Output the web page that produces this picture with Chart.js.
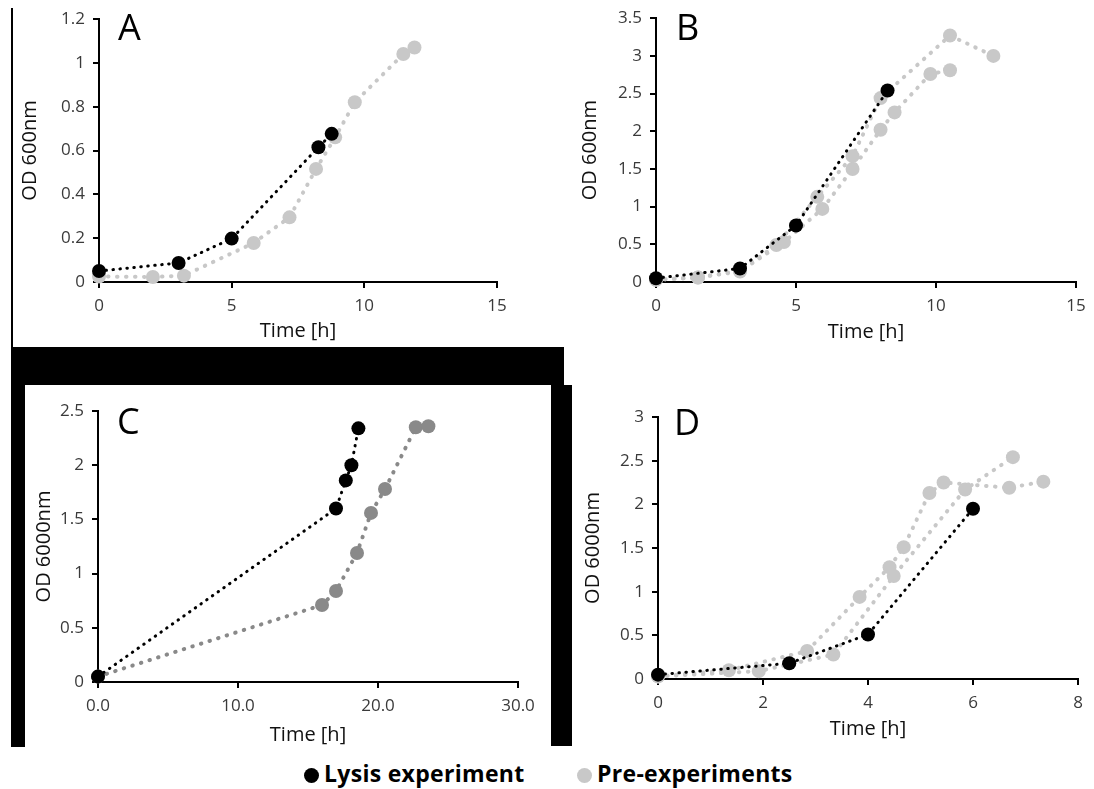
<!DOCTYPE html>
<html>
<head>
<meta charset="utf-8">
<script src="https://cdn.jsdelivr.net/npm/chart.js@4.4.1/dist/chart.umd.min.js"></script>
<style>
body { margin: 0; background: #fff; width: 1094px; height: 789px; overflow: hidden; position: relative; font-family: "Open Sans", sans-serif; }
.box { position: absolute; }
.bar { position: absolute; background: #000; }
.tag { position: absolute; font-size: 36px; line-height: 36px; color: #000; }
.leg { position: absolute; top: 758px; font-weight: 700; font-size: 23px; line-height: 30px; letter-spacing: 0.3px; color: #000; white-space: nowrap; }
.dot { display: inline-block; width: 15px; height: 15px; border-radius: 50%; vertical-align: -1px; margin-right: 5px; }
</style>
</head>
<body>
<!-- frame bits around the panels -->
<div class="bar" style="left:11px;top:8px;width:2px;height:340px"></div>
<div class="bar" style="left:11px;top:347px;width:553px;height:38px"></div>
<div class="bar" style="left:11px;top:347px;width:14px;height:400px"></div>
<div class="bar" style="left:551px;top:385px;width:21px;height:361px"></div>

<div class="box" id="boxA" style="left:13px;top:0px;width:534px;height:346px"><canvas id="cA"></canvas></div>
<div class="box" id="boxB" style="left:547px;top:0px;width:547px;height:350px"><canvas id="cB"></canvas></div>
<div class="box" id="boxC" style="left:25px;top:385px;width:526px;height:361px"><canvas id="cC"></canvas></div>
<div class="box" id="boxD" style="left:572px;top:385px;width:522px;height:365px"><canvas id="cD"></canvas></div>

<div class="tag" style="left:118px;top:9px">A</div>
<div class="tag" style="left:676px;top:9px">B</div>
<div class="tag" style="left:117px;top:403px">C</div>
<div class="tag" style="left:674px;top:404px">D</div>

<div class="leg" style="left:304px"><span class="dot" style="background:#000"></span>Lysis experiment</div>
<div class="leg" style="left:577px"><span class="dot" style="background:#c8c8c8"></span>Pre-experiments</div>

<script>
// panel A
const aLysisX = [0, 3, 5, 8.27, 8.77];
const aLysisY = [0.05, 0.087, 0.198, 0.615, 0.676];
const aPreX = [0, 2.03, 3.2, 5.83, 7.18, 8.18, 8.9, 9.64, 11.47, 11.89];
const aPreY = [0.025, 0.023, 0.029, 0.178, 0.295, 0.516, 0.66, 0.82, 1.04, 1.07];
const aXTicks = [0, 5, 10, 15];
const aYTicks = [0, 0.2, 0.4, 0.6, 0.8, 1, 1.2];

// panel B
const bLysisX = [0, 3, 5, 8.27];
const bLysisY = [0.05, 0.18, 0.75, 2.54];
const bPre1X = [0, 1.5, 3, 4.3, 5.76, 7.02, 8.02, 10.5, 12.05];
const bPre1Y = [0.03, 0.06, 0.15, 0.49, 1.13, 1.67, 2.44, 3.27, 3.0];
const bPre2X = [0, 1.5, 3, 4.57, 5.94, 7.02, 8.02, 8.52, 9.8, 10.5];
const bPre2Y = [0.03, 0.06, 0.14, 0.53, 0.97, 1.5, 2.02, 2.25, 2.76, 2.81];
const bXTicks = [0, 5, 10, 15];
const bYTicks = [0, 0.5, 1, 1.5, 2, 2.5, 3, 3.5];

// panel C
const cLysisX = [0, 17.0, 17.7, 18.1, 18.6];
const cLysisY = [0.05, 1.6, 1.86, 2.0, 2.34];
const cPreX = [0, 16.0, 17.0, 18.5, 19.5, 20.5, 22.7, 23.6];
const cPreY = [0.05, 0.71, 0.84, 1.19, 1.56, 1.78, 2.35, 2.36];
const cXTicks = [0, 10, 20, 30];
const cYTicks = [0, 0.5, 1, 1.5, 2, 2.5];

// panel D
const dLysisX = [0, 2.5, 4, 6];
const dLysisY = [0.05, 0.18, 0.51, 1.95];
const dPre1X = [0, 1.35, 2.84, 3.84, 4.41, 4.68, 5.17, 5.44, 6.69, 7.34];
const dPre1Y = [0.03, 0.1, 0.32, 0.94, 1.28, 1.51, 2.13, 2.25, 2.19, 2.26];
const dPre2X = [0, 1.92, 3.34, 4.49, 5.85, 6.76];
const dPre2Y = [0.03, 0.09, 0.28, 1.18, 2.17, 2.54];
const dXTicks = [0, 2, 4, 6, 8];
const dYTicks = [0, 0.5, 1, 1.5, 2, 2.5, 3];

const BLACK = '#000000';
const LIGHT = '#c8c8c8';
const DARK = '#898989';
const TITLE_SIZE = 20;
const TICK_SIZE = 17;

function series(xs, ys, color, width, dash) {
    return {
        data: xs.map((x, i) => ({ x: x, y: ys[i] })),
        showLine: true,
        borderColor: color,
        backgroundColor: color,
        pointBackgroundColor: color,
        pointBorderColor: color,
        pointBorderWidth: 0,
        pointRadius: 7,
        borderWidth: width,
        borderDash: dash,
        borderCapStyle: 'round',
        tension: 0,
        clip: false
    };
}

const plain = v => String(+v.toFixed(2));
const oneDec = v => v.toFixed(1);

// box = canvas rect on the page, plot = wanted plot rect, tx/ty = title centres
function panel(id, box, plot, yTitle, tx, ty, xTicks, yTicks, xFmt, datasets) {
    const lh = TITLE_SIZE * 1.2;
    const padLeft = tx - box.l - lh / 2;
    const yW = plot.l - box.l - padLeft;
    const padBottom = (box.t + box.h) - (ty + lh / 2);
    const xH = (box.t + box.h) - padBottom - plot.b;
    const common = {
        type: 'linear',
        grid: { drawOnChartArea: false, color: '#000', lineWidth: 2, tickLength: 6 },
        border: { color: '#000', width: 2 }
    };
    new Chart(document.getElementById(id), {
        type: 'scatter',
        data: { datasets: datasets },
        options: {
            responsive: true,
            maintainAspectRatio: false,
            animation: false,
            events: [],
            layout: { padding: { left: padLeft, top: plot.t - box.t, right: box.l + box.w - plot.r, bottom: padBottom } },
            plugins: { legend: { display: false }, tooltip: { enabled: false } },
            scales: {
                x: Object.assign({}, common, {
                    min: xTicks[0], max: xTicks[xTicks.length - 1],
                    afterBuildTicks: s => { s.ticks = xTicks.map(v => ({ value: v })); },
                    afterFit: s => { s.height = xH; },
                    ticks: { font: { family: 'Open Sans', size: TICK_SIZE }, color: '#3a3a3a', padding: 8, maxRotation: 0, autoSkip: false, callback: xFmt },
                    title: { display: true, text: 'Time [h]', font: { family: 'Open Sans', size: TITLE_SIZE }, color: '#111', padding: 0 }
                }),
                y: Object.assign({}, common, {
                    min: yTicks[0], max: yTicks[yTicks.length - 1],
                    afterBuildTicks: s => { s.ticks = yTicks.map(v => ({ value: v })); },
                    afterFit: s => { s.width = yW; },
                    ticks: { font: { family: 'Open Sans', size: TICK_SIZE }, color: '#3a3a3a', padding: 8, autoSkip: false, callback: plain },
                    title: { display: true, text: yTitle, font: { family: 'Open Sans', size: TITLE_SIZE }, color: '#111', padding: 0 }
                })
            }
        }
    });
}

const dotB = [0.5, 6.5];
const dotG = [0.5, 8.5];

panel('cA', { l: 13, t: 0, w: 534, h: 346 }, { l: 99, r: 497, t: 19, b: 282 }, 'OD 600nm', 30, 331,
    aXTicks, aYTicks, plain, [
        series(aLysisX, aLysisY, BLACK, 3, dotB),
        series(aPreX, aPreY, LIGHT, 4, dotG)
    ]);

panel('cB', { l: 547, t: 0, w: 547, h: 350 }, { l: 656, r: 1076, t: 17, b: 282 }, 'OD 600nm', 590, 332,
    bXTicks, bYTicks, plain, [
        series(bLysisX, bLysisY, BLACK, 3, dotB),
        series(bPre1X, bPre1Y, LIGHT, 4, dotG),
        series(bPre2X, bPre2Y, LIGHT, 4, dotG)
    ]);

panel('cC', { l: 25, t: 385, w: 526, h: 361 }, { l: 98, r: 518, t: 411, b: 682 }, 'OD 6000nm', 44, 735,
    cXTicks, cYTicks, oneDec, [
        series(cLysisX, cLysisY, BLACK, 3, dotB),
        series(cPreX, cPreY, DARK, 4, dotG)
    ]);

panel('cD', { l: 572, t: 385, w: 522, h: 365 }, { l: 658, r: 1078, t: 417, b: 679 }, 'OD 6000nm', 593, 729,
    dXTicks, dYTicks, plain, [
        series(dLysisX, dLysisY, BLACK, 3, dotB),
        series(dPre1X, dPre1Y, LIGHT, 4, dotG),
        series(dPre2X, dPre2Y, LIGHT, 4, dotG)
    ]);
</script>
</body>
</html>
